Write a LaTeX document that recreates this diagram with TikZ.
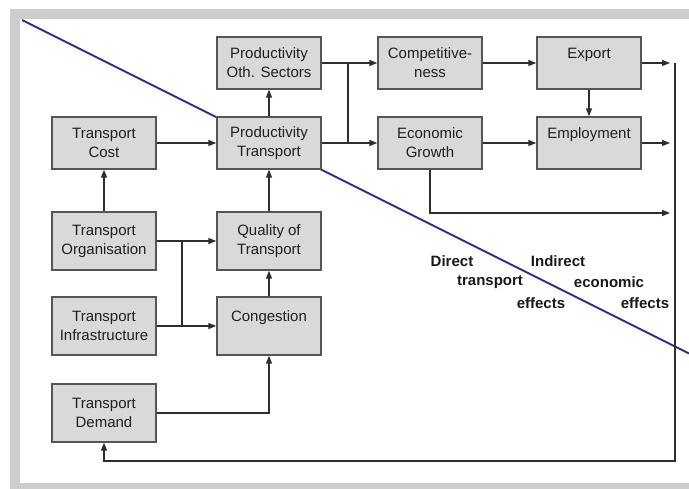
\documentclass[tikz,border=0pt]{standalone}
\usepackage{fontspec}
\setmainfont{Liberation Sans}
\usepackage{xcolor}
\usepackage{tikz}
\usetikzlibrary{arrows.meta}
\definecolor{boxgray}{HTML}{D9D9D9}
\definecolor{framegray}{HTML}{CDCDCD}
\definecolor{linegray}{HTML}{2E2E2E}
\definecolor{edgegray}{HTML}{555555}
\definecolor{divblue}{HTML}{2E2C8C}

\begin{document}
\begin{tikzpicture}[x=1pt, y=-1pt,
    box/.style={draw=edgegray, fill=boxgray, line width=1.3pt, minimum width=104pt,
        align=center, text=black!88, font=\fontsize{15}{19}\selectfont, inner sep=2pt},
    flow/.style={draw=linegray, line width=1.4pt, -{Triangle[length=8pt, width=6pt]}},
    conn/.style={draw=linegray, line width=1.4pt},
    lbl/.style={text=black!90, font=\fontsize{15}{19}\selectfont\bfseries, inner sep=0pt}]
    \useasboundingbox (0,0) rectangle (689,489);

    % marco
    \fill[framegray] (10,9) rectangle (689,489);
    \fill[white] (20,19) rectangle (689,483);

    % linea divisoria
    \coordinate (divA) at (22,20);
    \coordinate (divB) at (689,353.5);
    \draw[divblue, line width=2pt] (divA) -- (divB);

    % efectos directos
    \node[box, minimum height=52pt] (prodOth) at (269,63)  {Productivity\\Oth. Sectors};
    \node[box, minimum height=52pt] (cost)    at (104,143) {Transport\\Cost};
    \node[box, minimum height=52pt] (prodTr)  at (269,143) {Productivity\\Transport};
    \node[box, minimum height=58pt] (org)     at (104,241) {Transport\\Organisation};
    \node[box, minimum height=58pt] (quality) at (269,241) {Quality of\\Transport};
    \node[box, minimum height=58pt] (infra)   at (104,326) {Transport\\Infrastructure};
    \node[box, minimum height=58pt] (cong)    at (269,326) {Congestion\\~};
    \node[box, minimum height=58pt] (demand)  at (104,413) {Transport\\Demand};

    % efectos indirectos
    \node[box, minimum height=52pt] (compet)  at (430,63)  {Competitive-\\ness};
    \node[box, minimum height=52pt] (export)  at (589,63)  {Export\\~};
    \node[box, minimum height=52pt] (growth)  at (430,143) {Economic\\Growth};
    \node[box, minimum height=52pt] (employ)  at (589,143) {Employment\\~};

    % puntos auxiliares
    \coordinate (jLeft)  at (182,241);
    \coordinate (jRight) at (348,63);
    \coordinate (outA)   at (670,63);
    \coordinate (outB)   at (670,143);
    \coordinate (outC)   at (670,213);
    \coordinate (fbTop)  at (675,63);
    \coordinate (fbBot)  at (675,461);

    % flechas lado izquierdo
    \draw[flow] (prodTr.north) -- (prodOth.south);
    \draw[flow] (cost.east) -- (prodTr.west);
    \draw[flow] (org.north) -- (cost.south);
    \draw[flow] (quality.north) -- (prodTr.south);
    \draw[flow] (cong.north) -- (quality.south);
    \draw[flow] (org.east) -- (quality.west);
    \draw[flow] (infra.east) -- (cong.west);
    \draw[conn] (jLeft) -- (jLeft |- infra.east);
    \draw[flow] (demand.east) -| (cong.south);

    % flechas lado derecho
    \draw[flow] (prodOth.east) -- (compet.west);
    \draw[flow] (prodTr.east) -- (growth.west);
    \draw[conn] (jRight) -- (jRight |- prodTr.east);
    \draw[flow] (compet.east) -- (export.west);
    \draw[flow] (export.south) -- (employ.north);
    \draw[flow] (growth.east) -- (employ.west);
    \draw[flow] (export.east) -- (outA);
    \draw[flow] (employ.east) -- (outB);
    \draw[flow] (growth.south) |- (outC);

    % retorno
    \draw[flow] (fbTop) -- (fbBot) -| (demand.south);

    % etiquetas
    \node[lbl] (dirA) at (452,261) {Direct};
    \node[lbl] (dirB) at (490,282) {transport};
    \node[lbl] (dirC) at (541,303) {effects};
    \node[lbl] (indA) at (558,261) {Indirect};
    \node[lbl] (indB) at (609,282) {economic};
    \node[lbl] (indC) at (645,303) {effects};
\end{tikzpicture}
\end{document}
